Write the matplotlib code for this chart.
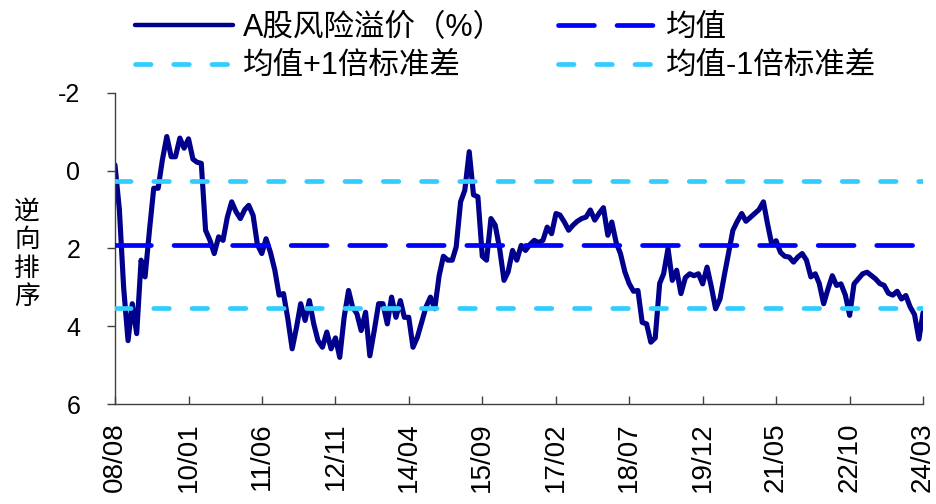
import matplotlib
matplotlib.use("Agg")
import matplotlib.pyplot as plt
import pandas as pd
from matplotlib.lines import Line2D

plt.rcParams['font.family'] = ['Liberation Sans', 'Noto Sans CJK SC', 'DejaVu Sans']

# ---- data ----
start_month = "2008-08"
premium_rank = [
    -0.15, 1.0, 3.0, 4.37, 3.42, 4.19, 2.3, 2.73, 1.53, 0.45,
    0.45, -0.28, -0.88, -0.36, -0.36, -0.84, -0.58, -0.82, -0.3, -0.22,
    -0.19, 1.53, 1.79, 2.13, 1.70, 1.79, 1.2, 0.8, 1.05, 1.23,
    1.0, 0.89, 1.15, 1.9, 2.13, 1.75, 2.1, 2.56, 3.2, 3.16,
    3.8, 4.58, 4.02, 3.42, 3.85, 3.34, 3.94, 4.37, 4.54, 4.15,
    4.58, 4.3, 4.80, 3.77, 3.08, 3.5, 3.68, 4.11, 3.64, 4.76,
    4.11, 3.42, 3.42, 3.94, 3.25, 3.77, 3.34, 3.77, 3.77, 4.54,
    4.28, 3.9, 3.5, 3.25, 3.55, 2.7, 2.2, 2.3, 2.3, 1.96,
    0.8, 0.5, -0.49, 0.62, 0.67, 2.2, 2.3, 1.23, 1.4, 2.0,
    2.82, 2.6, 2.05, 2.3, 1.92, 2.05, 1.9, 1.79, 1.85, 1.79,
    1.45, 1.62, 1.10, 1.14, 1.32, 1.53, 1.4, 1.3, 1.23, 1.19,
    1.01, 1.27, 1.10, 0.95, 1.66, 1.32, 1.85, 2.13, 2.6, 2.9,
    3.1, 3.08, 3.9, 3.94, 4.41, 4.3, 2.9, 2.65, 2.0, 2.82,
    2.56, 3.16, 2.75, 2.65, 2.7, 2.65, 2.91, 2.48, 3.0, 3.55,
    3.3, 2.7, 2.1, 1.53, 1.3, 1.1, 1.3, 1.2, 1.1, 1.0,
    0.8, 1.35, 1.9, 1.8, 2.1, 2.2, 2.22, 2.35, 2.22, 2.13,
    2.3, 2.73, 2.65, 2.9, 3.42, 3.05, 2.7, 2.95, 2.91, 3.2,
    3.72, 2.91, 2.78, 2.65, 2.61, 2.69, 2.78, 2.9, 2.95, 3.15,
    3.2, 3.1, 3.3, 3.21, 3.5, 3.7, 4.33, 3.65,
]
mean_level = 1.92
plus_std_level = 0.26
minus_std_level = 3.54
x_tick_labels = ["08/08", "10/01", "11/06", "12/11", "14/04", "15/09",
                 "17/02", "18/07", "19/12", "21/05", "22/10", "24/03"]
y_ticks = [-2, 0, 2, 4, 6]
labels = ["A股风险溢价（%）", "均值", "均值+1倍标准差", "均值-1倍标准差"]

dates = pd.date_range(start_month, periods=len(premium_rank), freq="MS")
tick_dates = pd.to_datetime(["20" + s.replace("/", "-") for s in x_tick_labels])

# ---- figure ----
fig = plt.figure(figsize=(9.37, 5.04), dpi=100)
ax = fig.add_axes([0.1227, 0.1984, 0.8624, 0.6171])

c_main = "#00008C"
c_mean = "#0000FF"
c_std = "#33CCFF"

ax.plot(dates, premium_rank, color=c_main, lw=3.7, solid_joinstyle="round",
        solid_capstyle="round", zorder=2)

lw_ref = 3.4
mean_dash = (7.6, 4.8)
std_dash = (3.3, 4.8)
ax.axhline(mean_level, color=c_mean, lw=lw_ref, dashes=mean_dash,
           dash_capstyle="round", zorder=3)
ax.axhline(plus_std_level, color=c_std, lw=lw_ref, dashes=std_dash,
           dash_capstyle="round", zorder=3)
ax.axhline(minus_std_level, color=c_std, lw=lw_ref, dashes=std_dash,
           dash_capstyle="round", zorder=3)

ax.set_xlim(dates[0], dates[-1])
ax.set_ylim(6, -2)
ax.set_yticks(y_ticks)
ax.set_yticklabels([str(v) for v in y_ticks])
ax.set_xticks(tick_dates)
ax.set_xticklabels(x_tick_labels, rotation=90)

for s in ["top", "right"]:
    ax.spines[s].set_visible(False)
for s in ["left", "bottom"]:
    ax.spines[s].set_color("#404040")
    ax.spines[s].set_linewidth(1.0)

ax.tick_params(axis="y", direction="out", length=6, width=1.0, color="#404040",
               labelsize=18, pad=19)
ax.tick_params(axis="x", direction="in", length=6, width=1.0, color="#404040",
               labelsize=20, pad=13)

fig.text(0.029, 0.495, "逆\n向\n排\n序", fontsize=18.5, ha="center", va="center",
         linespacing=1.12, family=["Noto Sans CJK SC"])

handles = [
    Line2D([], [], color=c_main, lw=3.2, solid_capstyle="round"),
    Line2D([], [], color=c_std, lw=lw_ref, dashes=std_dash, dash_capstyle="round"),
    Line2D([], [], color=c_mean, lw=lw_ref, dashes=mean_dash, dash_capstyle="round"),
    Line2D([], [], color=c_std, lw=lw_ref, dashes=std_dash, dash_capstyle="round"),
]
leg_labels = [labels[0], labels[2], labels[1], labels[3]]
fig.legend(handles, leg_labels, ncol=2, loc="upper left",
           bbox_to_anchor=(135 / 937, 1 - 13 / 504), frameon=False,
           fontsize=22, handlelength=3.2, handletextpad=0.33,
           columnspacing=1.78, labelspacing=0.27, borderpad=0, borderaxespad=0)

fig.savefig("out.png", dpi=100)
